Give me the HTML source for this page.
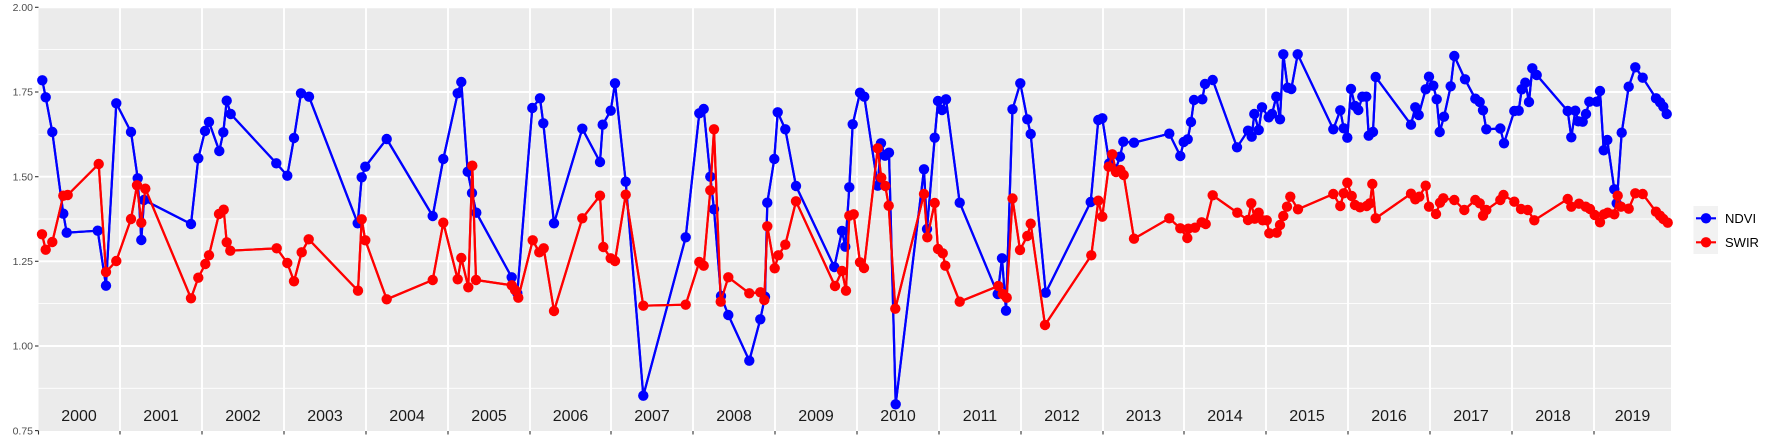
<!DOCTYPE html>
<html><head><meta charset="utf-8"><style>
html,body{margin:0;padding:0;background:#fff;}
svg{display:block;font-family:"Liberation Sans",sans-serif;}
</style></head><body>
<svg width="1773" height="442" viewBox="0 0 1773 442" xmlns="http://www.w3.org/2000/svg">
<defs>
<marker id="mb" markerUnits="userSpaceOnUse" markerWidth="12" markerHeight="12" refX="6" refY="6" viewBox="0 0 12 12"><circle cx="6" cy="6" r="5.2" fill="#0000FF"/></marker>
<marker id="mr" markerUnits="userSpaceOnUse" markerWidth="12" markerHeight="12" refX="6" refY="6" viewBox="0 0 12 12"><circle cx="6" cy="6" r="5.2" fill="#FF0000"/></marker>
</defs>
<rect x="38.5" y="7" width="1632.5" height="424" fill="#EBEBEB"/>
<g stroke="#fff" stroke-width="0.9">
<line x1="38.5" x2="1671" y1="49.6" y2="49.6"/><line x1="38.5" x2="1671" y1="134.3" y2="134.3"/><line x1="38.5" x2="1671" y1="219" y2="219"/><line x1="38.5" x2="1671" y1="303.6" y2="303.6"/><line x1="38.5" x2="1671" y1="388.3" y2="388.3"/>
</g>
<g stroke="#fff" stroke-width="1.9">
<line x1="38.5" x2="1671" y1="7.3" y2="7.3"/><line x1="38.5" x2="1671" y1="92" y2="92"/><line x1="38.5" x2="1671" y1="176.7" y2="176.7"/><line x1="38.5" x2="1671" y1="261.3" y2="261.3"/><line x1="38.5" x2="1671" y1="346" y2="346"/>
<line x1="120" x2="120" y1="7" y2="431"/><line x1="202" x2="202" y1="7" y2="431"/><line x1="284" x2="284" y1="7" y2="431"/><line x1="366" x2="366" y1="7" y2="431"/><line x1="448" x2="448" y1="7" y2="431"/><line x1="530" x2="530" y1="7" y2="431"/><line x1="611" x2="611" y1="7" y2="431"/><line x1="693" x2="693" y1="7" y2="431"/><line x1="775" x2="775" y1="7" y2="431"/><line x1="857" x2="857" y1="7" y2="431"/><line x1="939" x2="939" y1="7" y2="431"/><line x1="1021" x2="1021" y1="7" y2="431"/><line x1="1103" x2="1103" y1="7" y2="431"/><line x1="1184" x2="1184" y1="7" y2="431"/><line x1="1266" x2="1266" y1="7" y2="431"/><line x1="1348" x2="1348" y1="7" y2="431"/><line x1="1430" x2="1430" y1="7" y2="431"/><line x1="1512" x2="1512" y1="7" y2="431"/><line x1="1594" x2="1594" y1="7" y2="431"/>
</g>
<g stroke="#333" stroke-width="1.1">
<line x1="35" x2="38.5" y1="7.3" y2="7.3"/><line x1="35" x2="38.5" y1="92" y2="92"/><line x1="35" x2="38.5" y1="176.7" y2="176.7"/><line x1="35" x2="38.5" y1="261.3" y2="261.3"/><line x1="35" x2="38.5" y1="346" y2="346"/><line x1="35" x2="38.5" y1="430.6" y2="430.6"/>
<line x1="38.5" x2="38.5" y1="431" y2="434.5"/><line x1="120" x2="120" y1="431" y2="434.5"/><line x1="202" x2="202" y1="431" y2="434.5"/><line x1="284" x2="284" y1="431" y2="434.5"/><line x1="366" x2="366" y1="431" y2="434.5"/><line x1="448" x2="448" y1="431" y2="434.5"/><line x1="530" x2="530" y1="431" y2="434.5"/><line x1="611" x2="611" y1="431" y2="434.5"/><line x1="693" x2="693" y1="431" y2="434.5"/><line x1="775" x2="775" y1="431" y2="434.5"/><line x1="857" x2="857" y1="431" y2="434.5"/><line x1="939" x2="939" y1="431" y2="434.5"/><line x1="1021" x2="1021" y1="431" y2="434.5"/><line x1="1103" x2="1103" y1="431" y2="434.5"/><line x1="1184" x2="1184" y1="431" y2="434.5"/><line x1="1266" x2="1266" y1="431" y2="434.5"/><line x1="1348" x2="1348" y1="431" y2="434.5"/><line x1="1430" x2="1430" y1="431" y2="434.5"/><line x1="1512" x2="1512" y1="431" y2="434.5"/><line x1="1594" x2="1594" y1="431" y2="434.5"/>
</g>
<g font-size="10.5" fill="#4d4d4d" text-anchor="end">
<text x="33" y="11">2.00</text><text x="33" y="95.7">1.75</text><text x="33" y="180.4">1.50</text><text x="33" y="265">1.25</text><text x="33" y="349.7">1.00</text><text x="33" y="434.3">0.75</text>
</g>
<g font-size="16" fill="#1a1a1a" text-anchor="middle">
<text x="79" y="421">2000</text><text x="161" y="421">2001</text><text x="243" y="421">2002</text><text x="325" y="421">2003</text><text x="407" y="421">2004</text><text x="489" y="421">2005</text><text x="570.5" y="421">2006</text><text x="652" y="421">2007</text><text x="734" y="421">2008</text><text x="816" y="421">2009</text><text x="898" y="421">2010</text><text x="980" y="421">2011</text><text x="1062" y="421">2012</text><text x="1143.5" y="421">2013</text><text x="1225" y="421">2014</text><text x="1307" y="421">2015</text><text x="1389" y="421">2016</text><text x="1471" y="421">2017</text><text x="1553" y="421">2018</text><text x="1632.5" y="421">2019</text>
</g>
<polyline id="nd" fill="none" stroke="#0000FF" stroke-width="2.2" stroke-linejoin="round" points="42.3,80.3 45.7,97.3 52.3,132 63.3,213.7 66.7,232.7 97.7,230.7 106,285.7 116.3,103.3 131,132 137.7,178.3 141.3,240 144,200 191,224 198.3,158.3 205,131 209,122 219.3,151 223.3,132.3 226.7,100.7 230.7,114 276.3,163.3 287.3,175.7 294,138 301,93.3 309,96.7 357.7,223.3 361.7,177.3 365.3,166.7 386.7,139 432.7,216 443.3,159 457.7,93.3 461.3,82 467.7,171.7 472,193 476.3,212.7 511.7,277.3 517.3,293.3 532.3,108 540,98.3 543.3,123.3 554,223.3 582.3,128.7 600,162 602.7,124.7 610.7,110.7 615,83.3 625.7,181.7 643.3,395.7 685.7,237.3 699.3,113.3 703.7,109 710.3,176.7 714,209.3 721,296 728.3,315 749.3,360.7 760.3,319.3 765,296.7 767.3,202.7 774.3,159 777.7,112.3 785.3,129.3 796,186 834.3,267 842,231 845.3,246.7 849.3,187.3 852.7,124.3 860,92.7 864.3,96.7 877.7,185.7 881,143.3 885,155.7 889,152.7 895.7,404.3 924,169.3 927,229 934.7,137.7 938,101 942,110 946,99.3 959.7,202.7 997.7,294 1002,258.3 1006,310.7 1012.5,109.3 1020.3,83.3 1027.3,119.3 1030.7,134 1045.7,292.7 1090.7,202 1098.3,120 1102.3,118.3 1109.3,163.3 1115.7,169.3 1120,156.7 1123.3,141.7 1134,142.7 1169.3,133.7 1180.3,156 1183.7,142 1187.7,139.3 1191,122 1194,100 1202.3,99.3 1205,84 1212.7,80 1237,147.3 1248,130.7 1251.7,136.7 1254.3,114 1258.7,130 1262,107.3 1268.7,117.3 1272,114 1276.3,96.7 1280,119.3 1283.3,54.3 1287.7,87.7 1291.3,89 1297.7,54.3 1333.3,129.3 1340.3,110.3 1343.7,128.3 1347.3,137.7 1351,89 1355,106 1358.3,110 1362.3,96.7 1366.3,96.7 1368.7,135.7 1373,132 1375.7,77 1411,124.7 1415.3,107.3 1418.7,115 1425.7,89.3 1429,76.7 1433.3,85.7 1436.7,99.3 1439.7,132 1444,116.7 1450.7,86.3 1454.3,56 1465,79.3 1475.3,98.7 1479.7,102 1483,110.3 1486.3,129.3 1500.3,128.5 1504,143.3 1514.3,111 1518.7,110.7 1521.7,89.3 1525.3,82.7 1529,102 1532.3,68.3 1536.7,75 1567.7,111 1571.3,137.3 1575.3,110.7 1578.3,121.3 1582.7,121.7 1586,114 1589.3,101.7 1596.7,101.7 1600,91 1603.7,150.3 1607.3,140 1614.3,189.3 1616.7,203.3 1621.7,132.7 1628.7,86.7 1635.3,67.3 1642.7,77.7 1656,98.3 1660,102.3 1663.3,106.7 1666.7,114"/>
<polyline id="sw" fill="none" stroke="#FF0000" stroke-width="2.2" stroke-linejoin="round" points="42,234.3 45.7,249.7 52.3,242 63.3,195.7 67.7,195 98.7,164 106,272 116.3,261 131,219 137,185.3 141.3,222.7 145.3,188.7 191,298.3 198.3,277.7 205.3,264 209,255.3 219,214 223.7,209.7 226.7,242.3 230.3,250.7 276.7,248.3 287.3,263 294,281.3 301.7,252.3 308.7,239.3 358,290.7 361.7,219.3 365.3,240.3 386.7,299.3 432.7,280 443.3,222.7 457.7,279.3 461.3,258 468.3,287.3 472.3,165.7 476,280 511.7,285.3 515,290 518.3,297.7 532.7,240.3 539.3,252.3 543.7,248.3 554,311 582.3,218.3 600,195.7 603.3,247 610.7,258.3 615,261 625.7,194.7 643.3,305.7 685.7,304.7 699.3,262 703.7,265.7 710.3,190.3 714,129.3 720.7,301.7 728.3,277.3 749.3,293.3 760.3,292.3 764.3,300 767.3,226.3 774.7,268.3 778.3,255.3 785.3,244.7 796,201.3 835,286 842,271 846,290.7 849.3,215.7 853.7,214.3 860,262.3 864,268 877.7,148.3 881.3,177.7 885.3,186 888.7,205.7 895.3,308.7 924,194 927.3,237.3 934.7,203 938,249 942.7,253.3 945.3,265.7 959.7,301.7 998.3,286 1002.7,294 1006.7,297.7 1012.5,198.5 1020,250 1027.3,236 1030.7,223.7 1045,325 1091.3,255.3 1098.3,200.7 1102.3,216.7 1108.7,166.7 1112.3,154.3 1116,172 1120.3,170 1123.7,175 1134,238.7 1169.3,218.3 1180.3,228.3 1187.3,238 1188.3,228.7 1195,227.7 1201.7,222.3 1205.7,224 1212.7,195.3 1237.3,212.7 1248,220 1251.3,203.3 1254.7,218.7 1258.7,212.7 1262.7,220.3 1266.7,220.3 1269.3,233.3 1276.7,232.7 1280,225 1283.3,216 1287,206.7 1290.3,196.7 1298,209.3 1333.3,194 1340.3,206 1343.7,193.3 1347.3,182.7 1351.7,196 1355,205 1360,207.3 1366.7,206 1370,203.3 1372.3,184 1375.7,218.3 1411,193.7 1415.3,199.3 1419.3,196.7 1425.7,185.7 1429,206.7 1436,214 1440,202.7 1443.3,198.3 1454.3,200 1464.3,210 1475.3,200 1479.7,203.3 1483,215.7 1486.3,210 1500.3,200 1503.5,195 1514.3,201.7 1521,209 1527.7,210 1534.3,220.3 1567.7,199 1571.3,206.7 1579,203.7 1585.7,206.7 1590,209 1594.7,215 1600,222.3 1604,214.3 1607.7,212.7 1614.3,214.3 1617.7,195.7 1621,206.7 1628.7,208.7 1635.3,193.3 1642.7,194 1656,211.7 1660,215.7 1663.3,219 1667.7,222.7"/>
<use href="#nd" style="stroke:none;marker-start:url(#mb);marker-mid:url(#mb);marker-end:url(#mb)"/>
<use href="#sw" style="stroke:none;marker-start:url(#mr);marker-mid:url(#mr);marker-end:url(#mr)"/>
<rect x="1693.5" y="206" width="24.5" height="48" fill="#F2F2F2"/>
<line x1="1696" x2="1716" y1="218.3" y2="218.3" stroke="#0000FF" stroke-width="2.2"/>
<circle cx="1706" cy="218.3" r="5.2" fill="#0000FF"/>
<line x1="1696" x2="1716" y1="242.3" y2="242.3" stroke="#FF0000" stroke-width="2.2"/>
<circle cx="1706" cy="242.3" r="5.2" fill="#FF0000"/>
<g font-size="13" fill="#000">
<text x="1725" y="223">NDVI</text><text x="1725" y="247">SWIR</text>
</g>
</svg>
</body></html>
